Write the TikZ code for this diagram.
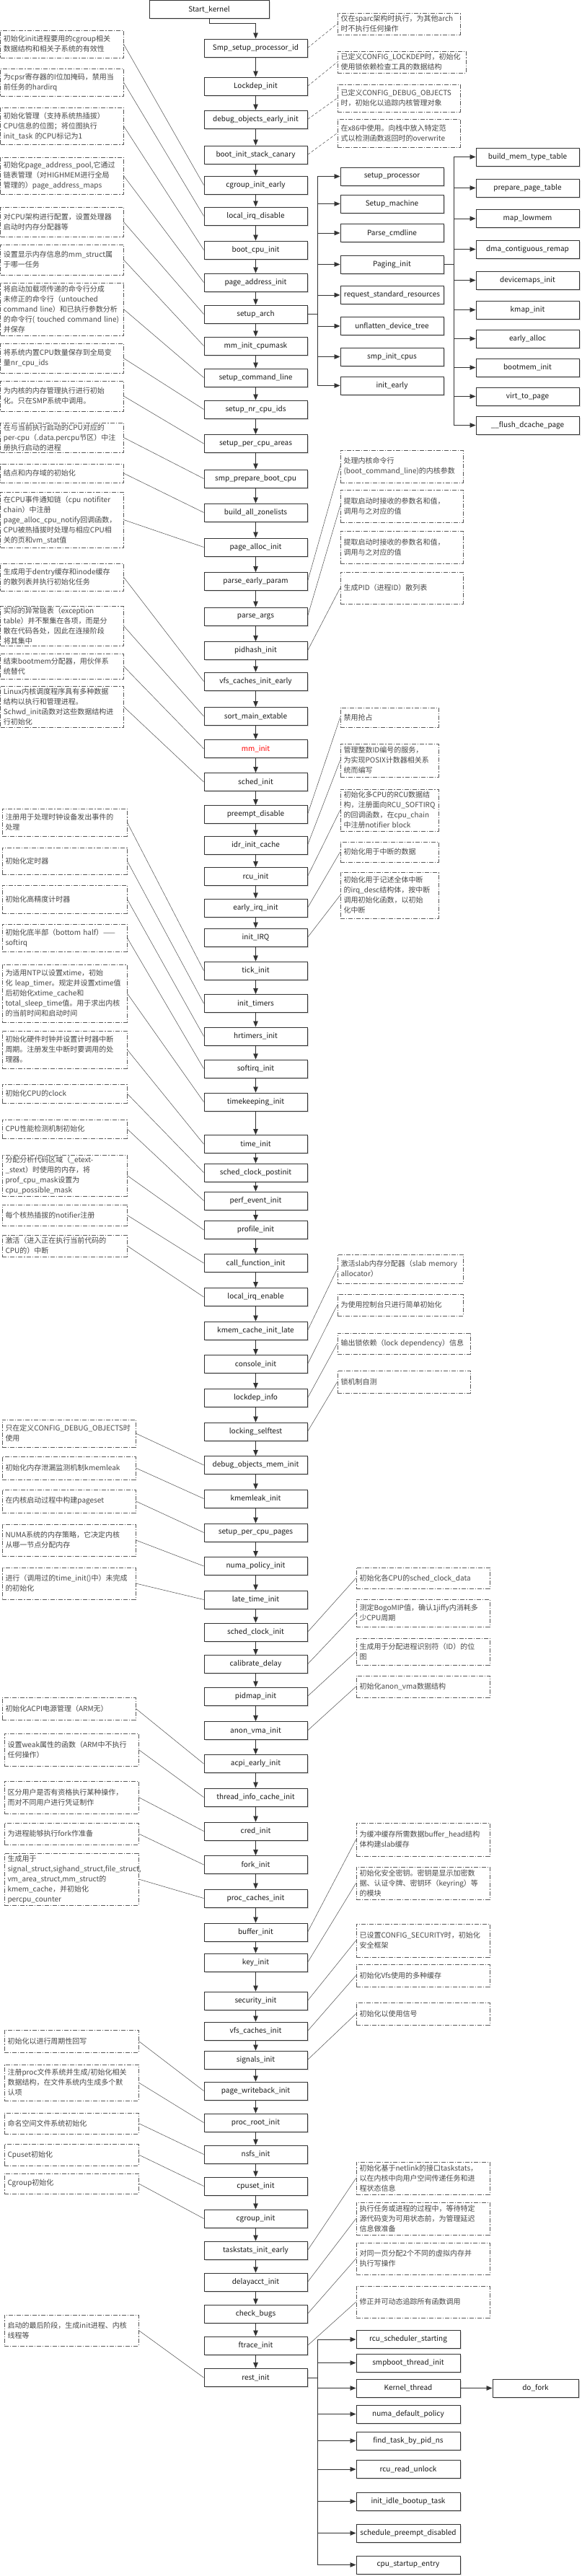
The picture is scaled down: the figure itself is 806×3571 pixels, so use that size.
\documentclass[tikz,border=0pt]{standalone}
\usepackage{fontspec}
\setmainfont{Noto Sans CJK SC}
\usetikzlibrary{arrows.meta,shadows}
\newcommand\notefs{\fontsize{10}{14}\selectfont}
\newcommand\mainfs{\fontsize{10}{12}\selectfont}
\tikzset{
  fbox/.style={draw=black!80, line width=0.9pt, fill=white, minimum width=143pt, minimum height=25pt, inner sep=1pt, font=\mainfs, text=black!90, drop shadow={shadow xshift=1.5pt, shadow yshift=-1.5pt, fill=black!15, opacity=1}},
  note/.style={draw=black!65, line width=0.7pt, dash pattern=on 6pt off 2pt on 1.2pt off 2pt, align=left, inner xsep=4pt, inner ysep=1pt, font=\notefs, text=black!72},
  arr/.style={-{Triangle[length=8pt,width=6.5pt]}, line width=0.8pt, draw=black!80},
  conn/.style={line width=0.5pt, draw=black!70},
  dconn/.style={conn, dash pattern=on 4pt off 2.5pt},
}
\newcommand\notenode[6]{%
  \pgfmathsetmacro\nbw{#3-#2}\pgfmathsetmacro\nbh{#5-#4}%
  \pgfmathsetmacro\nbx{(#2+#3)/2}\pgfmathsetmacro\nby{(#4+#5)/2}%
  \pgfmathsetmacro\nbt{#3-#2-9}%
  \node[note, minimum width=\nbw pt, minimum height=\nbh pt, text width=\nbt pt] (#1) at (\nbx,\nby) {#6};}
\newcommand\mainnode[3]{\node[fbox] (#1) at (354.5,#2) {#3};}
\begin{document}
\begin{tikzpicture}[x=1pt,y=-1pt]
\fill[white] (0,0) rectangle (806,3571);
\useasboundingbox (0,0) rectangle (806,3571);
% ---------- main column ----------
\node[fbox, minimum width=166pt] (start) at (290,13) {Start\_kernel};
\mainnode{smp}{66.5}{Smp\_setup\_processor\_id}
\mainnode{lockdep}{119.5}{Lockdep\_init}
\mainnode{dbgearly}{165.5}{debug\_objects\_early\_init}
\mainnode{canary}{214.5}{boot\_init\_stack\_canary}
\mainnode{cgearly}{256.5}{cgroup\_init\_early}
\mainnode{lirqd}{299.5}{local\_irq\_disable}
\mainnode{bootcpu}{346.5}{boot\_cpu\_init}
\mainnode{pai}{391.5}{page\_address\_init}
\mainnode{sarch}{435.5}{setup\_arch}
\mainnode{mmcpu}{479.5}{mm\_init\_cpumask}
\mainnode{scmd}{523.5}{setup\_command\_line}
\mainnode{snr}{567.5}{setup\_nr\_cpu\_ids}
\mainnode{spca}{615}{setup\_per\_cpu\_areas}
\mainnode{spbc}{663.5}{smp\_prepare\_boot\_cpu}
\mainnode{baz}{710.5}{build\_all\_zonelists}
\mainnode{pai2}{758.5}{page\_alloc\_init}
\mainnode{pep}{806}{parse\_early\_param}
\mainnode{pargs}{854.5}{parse\_args}
\mainnode{pidh}{902}{pidhash\_init}
\mainnode{vfse}{944.5}{vfs\_caches\_init\_early}
\mainnode{sme}{993}{sort\_main\_extable}
\node[fbox, text=red] (mminit) at (354.5,1038) {mm\_init};
\mainnode{sched}{1084}{sched\_init}
\mainnode{pdis}{1129}{preempt\_disable}
\mainnode{idr}{1171.5}{idr\_init\_cache}
\mainnode{rcu}{1215}{rcu\_init}
\mainnode{eirq}{1258.5}{early\_irq\_init}
\mainnode{irq}{1299.5}{init\_IRQ}
\mainnode{tick}{1345.5}{tick\_init}
\mainnode{itim}{1391}{init\_timers}
\mainnode{hrt}{1436.5}{hrtimers\_init}
\mainnode{sirq}{1481.5}{softirq\_init}
\mainnode{tk}{1527.5}{timekeeping\_init}
\mainnode{timei}{1586}{time\_init}
\mainnode{scp}{1625.5}{sched\_clock\_postinit}
\mainnode{perf}{1664.5}{perf\_event\_init}
\mainnode{prof}{1705}{profile\_init}
\mainnode{cfi}{1751}{call\_function\_init}
\mainnode{lirqe}{1798}{local\_irq\_enable}
\mainnode{kcil}{1844.5}{kmem\_cache\_init\_late}
\mainnode{cons}{1891}{console\_init}
\mainnode{ldi}{1938}{lockdep\_info}
\mainnode{lst}{1984.5}{locking\_selftest}
\mainnode{domi}{2031}{debug\_objects\_mem\_init}
\mainnode{kml}{2077.5}{kmemleak\_init}
\mainnode{spcp}{2124.5}{setup\_per\_cpu\_pages}
\mainnode{npi}{2171}{numa\_policy\_init}
\mainnode{lti}{2217.5}{late\_time\_init}
\mainnode{sci}{2262.5}{sched\_clock\_init}
\mainnode{cal}{2307}{calibrate\_delay}
\mainnode{pmi}{2351.5}{pidmap\_init}
\mainnode{avi}{2399}{anon\_vma\_init}
\mainnode{acpi}{2445}{acpi\_early\_init}
\mainnode{tic}{2491.5}{thread\_info\_cache\_init}
\mainnode{cred}{2538.5}{cred\_init}
\mainnode{fork}{2585}{fork\_init}
\mainnode{pcache}{2631.5}{proc\_caches\_init}
\mainnode{buf}{2678.5}{buffer\_init}
\mainnode{key}{2720.5}{key\_init}
\mainnode{sec}{2773.5}{security\_init}
\mainnode{vfsc}{2815.5}{vfs\_caches\_init}
\mainnode{sig}{2855.5}{signals\_init}
\mainnode{pwb}{2898.5}{page\_writeback\_init}
\mainnode{proot}{2942.5}{proc\_root\_init}
\mainnode{nsfs}{2986.5}{nsfs\_init}
\mainnode{cpuset}{3030.5}{cpuset\_init}
\mainnode{cgi}{3075.5}{cgroup\_init}
\mainnode{tse}{3119.5}{taskstats\_init\_early}
\mainnode{dacct}{3163.5}{delayacct\_init}
\mainnode{cbugs}{3207.5}{check\_bugs}
\mainnode{ftrace}{3251.5}{ftrace\_init}
\mainnode{rest}{3296}{rest\_init}
% ---------- setup_arch children ----------
\node[fbox] (sp)  at (543.5,244.5) {setup\_processor};
\node[fbox] (sm)  at (543.5,282.5) {Setup\_machine};
\node[fbox] (pc)  at (543.5,323)   {Parse\_cmdline};
\node[fbox] (pgi) at (543.5,366.5) {Paging\_init};
\node[fbox] (rsr) at (543.5,409)   {request\_standard\_resources};
\node[fbox] (udt) at (543.5,452)   {unflatten\_device\_tree};
\node[fbox] (sic) at (543.5,494.5) {smp\_init\_cpus};
\node[fbox] (ie)  at (543.5,534.5) {init\_early};
% ---------- paging_init children ----------
\node[fbox] (bmt) at (731.5,217.5) {build\_mem\_type\_table};
\node[fbox] (ppt) at (731.5,260.5) {prepare\_page\_table};
\node[fbox] (mlm) at (731.5,303)   {map\_lowmem};
\node[fbox] (dcr) at (731.5,345.5) {dma\_contiguous\_remap};
\node[fbox] (dmi) at (731.5,388.5) {devicemaps\_init};
\node[fbox] (kmi) at (731.5,429.5) {kmap\_init};
\node[fbox] (eal) at (731.5,469.5) {early\_alloc};
\node[fbox] (bmi) at (731.5,509.5) {bootmem\_init};
\node[fbox] (vtp) at (731.5,549.5) {virt\_to\_page};
\node[fbox] (fdp) at (731.5,589.5) {\_\_flush\_dcache\_page};
% ---------- rest_init children ----------
\node[fbox, minimum width=144pt] (rss) at (566,3243)   {rcu\_scheduler\_starting};
\node[fbox, minimum width=144pt] (sti) at (566,3275.5) {smpboot\_thread\_init};
\node[fbox, minimum width=144pt] (kth) at (566,3310.5) {Kernel\_thread};
\node[fbox, minimum width=144pt] (ndp) at (566,3346.5) {numa\_default\_policy};
\node[fbox, minimum width=144pt] (ftp) at (566,3383.5) {find\_task\_by\_pid\_ns};
\node[fbox, minimum width=144pt] (rru) at (566,3423)   {rcu\_read\_unlock};
\node[fbox, minimum width=144pt] (iib) at (566,3467.5) {init\_idle\_bootup\_task};
\node[fbox, minimum width=144pt] (spd) at (566,3511.5) {schedule\_preempt\_disabled};
\node[fbox, minimum width=144pt] (cse) at (566,3555.5) {cpu\_startup\_entry};
\node[fbox, minimum width=119pt] (dofork) at (742.5,3310.5) {do\_fork};
% ---------- main chain arrows ----------
\draw[arr] (start.south) -- ++(0,6) -| (smp.north);
\foreach \a/\b in {smp/lockdep,lockdep/dbgearly,dbgearly/canary,canary/cgearly,cgearly/lirqd,lirqd/bootcpu,bootcpu/pai,pai/sarch,sarch/mmcpu,mmcpu/scmd,scmd/snr,snr/spca,spca/spbc,spbc/baz,baz/pai2,pai2/pep,pep/pargs,pargs/pidh,pidh/vfse,vfse/sme,sme/mminit,mminit/sched,sched/pdis,pdis/idr,idr/rcu,rcu/eirq,eirq/irq,irq/tick,tick/itim,itim/hrt,hrt/sirq,sirq/tk,tk/timei,timei/scp,scp/perf,perf/prof,prof/cfi,cfi/lirqe,lirqe/kcil,kcil/cons,cons/ldi,ldi/lst,lst/domi,domi/kml,kml/spcp,spcp/npi,npi/lti,lti/sci,sci/cal,cal/pmi,pmi/avi,avi/acpi,acpi/tic,tic/cred,cred/fork,fork/pcache,pcache/buf,buf/key,key/sec,sec/vfsc,vfsc/sig,sig/pwb,pwb/proot,proot/nsfs,nsfs/cpuset,cpuset/cgi,cgi/tse,tse/dacct,dacct/cbugs,cbugs/ftrace,ftrace/rest}
  \draw[arr] (\a.south) -- (\b.north);
\foreach \c in {sp,sm,pc,pgi,rsr,udt,sic,ie}
  \draw[arr] (sarch.east) -- ++(14,0) |- (\c.west);
\foreach \c in {bmt,ppt,mlm,dcr,dmi,kmi,eal,bmi,vtp,fdp}
  \draw[arr] (pgi.east) -- ++(14,0) |- (\c.west);
\foreach \c in {rss,sti,kth,ndp,ftp,rru,iib,spd,cse}
  \draw[arr] (rest.east) -- ++(14,0) |- (\c.west);
\draw[arr] (kth.east) -- (dofork.west);
% ---------- left notes ----------
\notenode{L1}{0.5}{171}{42}{80}{初始化init进程要用的cgroup相关\\数据结构和相关子系统的有效性}
\notenode{L2}{0.5}{171}{95}{133}{为cpsr寄存器的I位加掩码，禁用当\\前任务的hardirq}
\notenode{L3}{0.5}{171}{149}{200}{初始化管理（支持系统热插拔）\\CPU信息的位图；将位图执行\\init\_task~的CPU标记为1}
\notenode{L4}{0.5}{171}{218}{269}{初始化page\_address\_pool,它通过\\链表管理（对HIGHMEM进行全局\\管理的）page\_address\_maps}
\notenode{L5}{0.5}{171}{287}{328}{对CPU架构进行配置，设置处理器\\启动时内存分配器等}
\notenode{L6}{0.5}{171}{339}{381}{设置显示内存信息的mm\_struct属\\于哪一任务}
\notenode{L7}{0.5}{171}{392}{465}{将启动加载项传递的命令行分成\\未修正的命令行（untouched\\command~line）和已执行参数分析\\的命令行(~touched~command~line)\\并保存}
\notenode{L8}{0.5}{171}{476}{517}{将系统内置CPU数量保存到全局变\\量nr\_cpu\_ids}
\notenode{L9}{0.5}{171}{528}{570}{为内核的内存管理执行进行初始\\化。只在SMP系统中调用。}
\notenode{L10}{0.5}{171}{586}{627}{在与当前执行启动的CPU对应的\\per-cpu（.data.percpu节区）中注\\册执行启动的进程}
\notenode{L11}{0.5}{171}{643}{669}{结点和内存域的初始化}
\notenode{L12}{0.5}{171}{682}{759}{在CPU事件通知链（cpu~notifiter\\chain）中注册\\page\_alloc\_cpu\_notify回调函数，\\CPU被热插拔时处理与相应CPU相\\关的页和vm\_stat值}
\notenode{L13}{0.5}{171}{781}{819}{生成用于dentry缓存和inode缓存\\的散列表并执行初始化任务}
\notenode{L14}{0.5}{171}{840}{895}{实际的异常链表（exception\\table）并不聚集在各项，而是分\\散在代码各处，因此在连接阶段\\将其集中}
\notenode{L15}{0.5}{171}{906}{941}{结束bootmem分配器，用伙伴系\\统替代}
\notenode{L16}{0.5}{171}{951}{1008}{Linux内核调度程序具有多种数据\\结构以执行和管理进程。\\Schwd\_init函数对这些数据结构进\\行初始化}
\notenode{L17}{3}{176}{1121}{1159}{注册用于处理时钟设备发出事件的\\处理}
\notenode{L18}{3}{176}{1175}{1212}{初始化定时器}
\notenode{L19}{3}{176}{1227}{1266}{初始化高精度计时器}
\notenode{L20}{3}{176}{1281}{1319}{初始化底半部（bottom~half）——\\softirq}
\notenode{L21}{3}{176}{1337}{1417}{为适用NTP以设置xtime，初始\\化~leap\_timer。规定并设置xtime值\\后初始化xtime\_cache和\\total\_sleep\_time值。用于求出内核\\的当前时间和启动时间}
\notenode{L22}{3}{176}{1429}{1481}{初始化硬件时钟并设置计时器中断\\周期。注册发生中断时要调用的处\\理器。}
\notenode{L23}{3}{176}{1503}{1529}{初始化CPU的clock}
\notenode{L24}{3}{176}{1552}{1578}{CPU性能检测机制初始化}
\notenode{L25}{3}{176}{1601}{1658}{分配分析代码区域（\_etext-\\\_stext）时使用的内存，将\\prof\_cpu\_mask设置为\\cpu\_possible\_mask}
\notenode{L26}{3}{176}{1670}{1699}{每个核热插拔的notifier注册}
\notenode{L27}{3}{176}{1712}{1742}{激活（进入正在执行当前代码的\\CPU的）中断}
\notenode{L28}{3}{188}{1968}{2006}{只在定义CONFIG\_DEBUG\_OBJECTS时\\使用}
\notenode{L29}{3}{188}{2019}{2051}{初始化内存泄漏监测机制kmemleak}
\notenode{L30}{3}{188}{2065}{2097}{在内核启动过程中构建pageset}
\notenode{L31}{3}{188}{2113}{2157}{NUMA系统的内存策略，它决定内核\\从哪一节点分配内存}
\notenode{L32}{3}{188}{2173}{2217}{进行（调用过的time\_init()中）未完成\\的初始化}
\notenode{L33}{3}{188}{2353}{2384}{初始化ACPI电源管理（ARM无）}
\notenode{L34}{6}{192}{2403}{2448}{设置weak属性的函数（ARM中不执行\\任何操作）}
\notenode{L35}{6}{192}{2469}{2514}{区分用户是否有资格执行某种操作，\\而对不同用户进行凭证制作}
\notenode{L36}{6}{192}{2527}{2557}{为进程能够执行fork作准备}
\notenode{L37}{6}{192}{2569}{2641}{生成用于\\signal\_struct,sighand\_struct,file\_struct,\\vm\_area\_struct,mm\_struct的\\kmem\_cache，并初始化\\percpu\_counter}
\notenode{L38}{6}{192}{2814}{2845}{初始化以进行周期性回写}
\notenode{L39}{6}{192}{2862}{2912}{注册proc文件系统并生成/初始化相关\\数据结构，在文件系统内生成多个默\\认项}
\notenode{L40}{6}{192}{2929}{2958}{命名空间文件系统初始化}
\notenode{L41}{6}{192}{2972}{3002}{Cpuset初始化}
\notenode{L42}{6}{192}{3013}{3041}{Cgroup初始化}
\notenode{L43}{6}{192}{3209}{3252}{启动的最后阶段，生成init进程、内核\\线程等}
% ---------- right notes ----------
\notenode{R1}{468}{638}{18}{48}{仅在sparc架构时执行，为其他arch\\时不执行任何操作}
\notenode{R2}{468}{646}{71}{101}{已定义CONFIG\_LOCKDEP时，初始化\\使用锁依赖检查工具的数据结构}
\notenode{R3}{468}{638}{117}{155}{已定义CONFIG\_DEBUG\_OBJECTS\\时，初始化以追踪内核管理对象}
\notenode{R4}{468}{638}{165}{204}{在x86中使用。向栈中放入特定范\\式以检测函数返回时的overwrite}
\notenode{R5}{472}{642}{624}{669}{处理内核命令行\\(boot\_command\_line)的内核参数}
\notenode{R6}{472}{642}{679}{724}{提取启动时接收的参数名和值，\\调用与之对应的值}
\notenode{R7}{472}{642}{736}{781}{提取启动时接收的参数名和值，\\调用与之对应的值}
\notenode{R8}{472}{642}{793}{837}{生成PID（进程ID）散列表}
\notenode{R9}{472}{608}{981}{1008}{禁用抢占}
\notenode{R10}{472}{608}{1031}{1077}{管理整数ID编号的服务，\\为实现POSIX计数器相关系\\统而编写}
\notenode{R11}{472}{608}{1094}{1152}{初始化多CPU的RCU数据结\\构，注册面向RCU\_SOFTIRQ\\的回调函数，在cpu\_chain\\中注册notifier~block}
\notenode{R12}{472}{608}{1167}{1195}{初始化用于中断的数据}
\notenode{R13}{472}{608}{1209}{1273}{初始化用于记述全体中断\\的irq\_desc结构体，按中断\\调用初始化函数，以初始\\化中断}
\notenode{R14}{468}{642}{1739}{1779}{激活slab内存分配器（slab~memory\\allocator）}
\notenode{R15}{468}{642}{1794}{1824}{为使用控制台只进行简单初始化}
\notenode{R16}{468}{652}{1848}{1877}{输出锁依赖（lock~dependency）信息}
\notenode{R17}{468}{652}{1900}{1931}{锁机制自测}
\notenode{R18}{494}{679}{2173}{2202}{初始化各CPU的sched\_clock\_data}
\notenode{R19}{494}{679}{2217}{2255}{测定BogoMIP值，确认1jiffy内消耗多\\少CPU周期}
\notenode{R20}{494}{679}{2271}{2308}{生成用于分配进程识别符（ID）的位\\图}
\notenode{R21}{494}{679}{2323}{2353}{初始化anon\_vma数据结构}
\notenode{R22}{494}{679}{2527}{2573}{为缓冲缓存所需数据buffer\_head结构\\体构建slab缓存}
\notenode{R23}{494}{679}{2588}{2633}{初始化安全密钥。密钥是显示加密数\\据、认证令牌、密钥环（keyring）等\\的模块}
\notenode{R24}{494}{679}{2667}{2713}{已设置CONFIG\_SECURITY时，初始化\\安全框架}
\notenode{R25}{494}{679}{2723}{2754}{初始化Vfs使用的多种缓存}
\notenode{R26}{494}{679}{2776}{2807}{初始化以使用信号}
\notenode{R27}{494}{679}{2997}{3042}{初始化基于netlink的接口taskstats，\\以在内核中向用户空间传递任务和进\\程状态信息}
\notenode{R28}{494}{679}{3053}{3098}{执行任务或进程的过程中，等待特定\\源代码变为可用状态前，为管理延迟\\信息做准备}
\notenode{R29}{494}{679}{3109}{3153}{对同一页分配2个不同的虚拟内存并\\执行写操作}
\notenode{R30}{494}{679}{3169}{3213}{修正并可动态追踪所有函数调用}
% ---------- note connectors ----------
\foreach \n/\m in {L1/cgearly,L2/lirqd,L3/bootcpu,L4/pai,L5/sarch,L6/mmcpu,L7/scmd,L8/snr,L9/spca,L10/spbc,L11/baz,L12/pai2,L13/vfse,L14/sme,L15/mminit,L16/sched,L17/tick,L18/itim,L19/hrt,L20/sirq,L21/tk,L22/timei,L23/scp,L24/perf,L25/prof,L26/cfi,L27/lirqe,L28/domi,L29/kml,L30/spcp,L31/npi,L32/lti,L33/acpi,L34/tic,L35/cred,L36/fork,L37/pcache,L38/pwb,L39/proot,L40/nsfs,L41/cpuset,L42/cgi,L43/rest}
  \draw[conn] (\n.east) -- (\m.west);
\foreach \m/\n in {smp/R1,lockdep/R2,dbgearly/R3,canary/R4}
  \draw[dconn] (\m.east) -- (\n.west);
\foreach \m/\n in {pep/R5,pargs/R6,pidh/R8,pdis/R9,idr/R10,rcu/R11,eirq/R12,irq/R13,kcil/R14,cons/R15,ldi/R16,lst/R17,sci/R18,cal/R19,pmi/R20,avi/R21,buf/R22,key/R23,sec/R24,vfsc/R25,sig/R26,tse/R27,dacct/R28,cbugs/R29,ftrace/R30}
  \draw[conn] (\m.east) -- (\n.west);
\end{tikzpicture}
\end{document}
